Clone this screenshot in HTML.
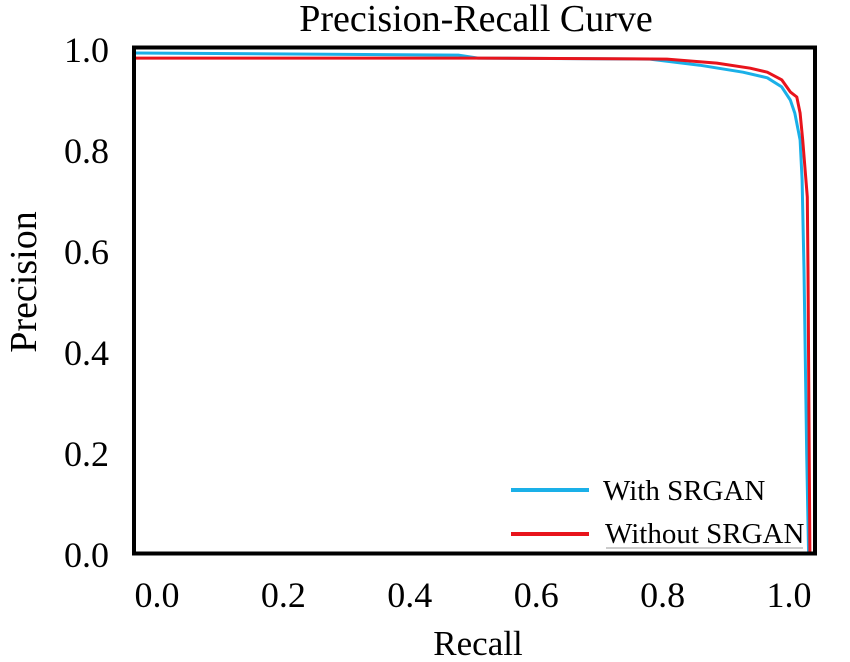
<!DOCTYPE html>
<html><head><meta charset="utf-8"><style>
html,body{margin:0;padding:0;background:#fff;}
svg{display:block;font-family:"Liberation Serif",serif;}
</style></head><body>
<svg id="chart" width="850" height="662" viewBox="0 0 850 662">
<text x="476" y="31" text-anchor="middle" font-size="38">Precision-Recall Curve</text>
<g id="plot"></g>
<text x="478" y="655" text-anchor="middle" font-size="35">Recall</text>
<text transform="translate(36,282) rotate(-90)" text-anchor="middle" font-size="38">Precision</text>
</svg>
<script>
const xTicks=[0,0.2,0.4,0.6,0.8,1.0];
const yTicks=[0,0.2,0.4,0.6,0.8,1.0];
const withRecall=[-0.024,0.47,0.5,0.762,0.838,0.904,0.941,0.963,0.976,0.983,0.991,0.994,0.997,1.001,1.004];
const withPrecision=[0.994,0.99,0.984,0.982,0.970,0.956,0.945,0.927,0.901,0.875,0.822,0.743,0.565,0.2,0];
const withoutRecall=[-0.024,0.5,0.788,0.864,0.915,0.941,0.963,0.976,0.986,0.991,0.995,1.002,1.003,1.006];
const withoutPrecision=[0.984,0.984,0.982,0.974,0.964,0.956,0.941,0.917,0.907,0.875,0.822,0.709,0.564,0];
const seriesNames=["With SRGAN","Without SRGAN"];
const NS="http://www.w3.org/2000/svg";
const X=v=>150+656*v, Y=v=>555-505*v;
const XL=v=>157+632*v;
const g=document.getElementById('plot');
function mk(t,a){const e=document.createElementNS(NS,t);for(const k in a)e.setAttribute(k,a[k]);g.appendChild(e);return e;}
xTicks.forEach(v=>{const t=mk('text',{x:XL(v),y:607,'text-anchor':'middle','font-size':36});t.textContent=v.toFixed(1);

});
yTicks.forEach(v=>{const t=mk('text',{x:109,y:Y(v)+12,'text-anchor':'end','font-size':36});t.textContent=v.toFixed(1);

});
function line(rs,ps,color,name){const d=rs.map((r,i)=>(i?'L':'M')+X(r).toFixed(1)+','+Y(ps[i]).toFixed(1)).join('');
const p=mk('path',{d:d,fill:'none',stroke:color,'stroke-width':3,'stroke-linejoin':'round'});

}
line(withRecall,withPrecision,'#1ab0e8','with-srgan-line');
line(withoutRecall,withoutPrecision,'#e8141c','without-srgan-line');
const fr=mk('rect',{x:134,y:47.5,width:681,height:506,fill:'none',stroke:'#000','stroke-width':4});


const l1=mk('line',{x1:511,y1:490,x2:589,y2:490,stroke:'#1ab0e8','stroke-width':4});


const t1=mk('text',{x:603,y:500,'font-size':29});t1.textContent=seriesNames[0];


const l2=mk('line',{x1:511,y1:534,x2:589,y2:534,stroke:'#e8141c','stroke-width':4});


const t2=mk('text',{x:605,y:543,'font-size':29});t2.textContent=seriesNames[1];


const u=mk('line',{x1:606,y1:548,x2:803,y2:548,stroke:'#bbb','stroke-width':1.5});


</script>
</body></html>
